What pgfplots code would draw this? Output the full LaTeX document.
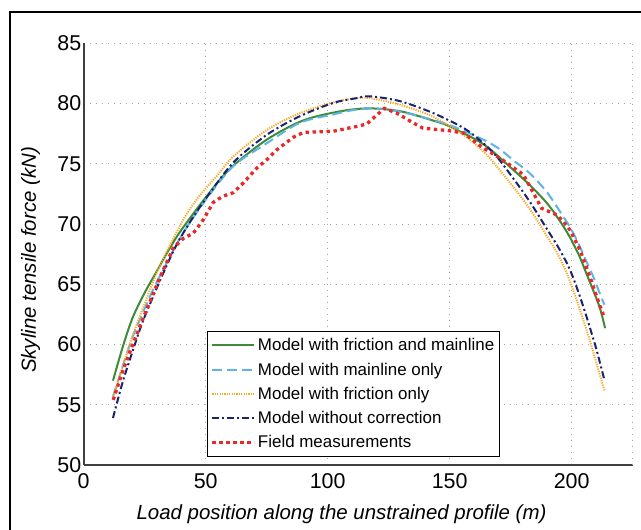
\documentclass[border=0pt]{standalone}
\usepackage{fontspec}
\setmainfont{Liberation Sans}
\usepackage{pgfplots}
\pgfplotsset{compat=1.18}

\definecolor{cgreen}{RGB}{61,139,55}
\definecolor{cblue}{RGB}{95,180,230}
\definecolor{corange}{RGB}{250,170,40}
\definecolor{cnavy}{RGB}{25,35,110}
\definecolor{cred}{RGB}{235,40,40}
\definecolor{cgrid}{RGB}{165,165,165}

\begin{document}
\begin{tikzpicture}
  \useasboundingbox (0,0) rectangle (641bp,530bp);
  \begin{axis}[
    at={(83.7bp,65bp)}, anchor=south west,
    scale only axis,
    width=549bp, height=421.7bp,
    xmin=0, xmax=225,
    ymin=50, ymax=85,
    xtick={0,50,100,150,200},
    ytick={50,55,60,65,70,75,80,85},
    extra x ticks={225},
    extra x tick labels={},
    extra x tick style={grid=major},
    grid=major,
    major grid style={cgrid, line width=1bp, dash pattern=on 1.2bp off 4.8bp},
    major tick length=0pt,
    axis x line*=bottom,
    axis y line*=left,
    axis line style={black!75, line width=1.6bp},
    tick label style={font=\fontsize{21.5}{25}\selectfont},
    /pgf/number format/assume math mode=true,
    xticklabel style={yshift=-5bp},
    yticklabel style={xshift=1bp},
    xlabel={Load position along the unstrained profile (m)},
    ylabel={Skyline tensile force (kN)},
    label style={font=\fontsize{20.5}{24}\selectfont\itshape},
    xlabel style={at={(axis description cs:0.4696,0)}, anchor=north, yshift=-36bp},
    ylabel style={at={(axis description cs:-0.073,0.486)}, anchor=south, rotate=0},
    legend style={at={(axis description cs:0.2246,0.019)}, anchor=south west,
      draw=black, line width=1.4bp, fill=white,
      font=\fontsize{17}{20}\selectfont,
      inner xsep=3bp, inner ysep=5bp,
      row sep=6.5bp},
    legend cell align={left},
    legend image code/.code={\draw[#1] (0bp,0bp) -- (42bp,0bp);},
  ]
    % model with friction and mainline
    \addplot[cgreen, line width=2bp, smooth, tension=0.5] coordinates {
      (12,57.0) (16,59.8) (20,62.2) (25,64.3) (30,66.1) (35,67.9) (40,69.5)
      (50,72.2) (60,74.6) (75,77.0) (90,78.6) (105,79.35) (117,79.6)
      (130,79.35) (143,78.6) (150,78.1) (164,76.6) (176,74.5) (183,73.2)
      (190,71.7) (195,70.3) (199,69.0) (203,67.4) (206,65.9) (209,64.4)
      (211.6,63.0) (213.7,61.35)
    };
    \addlegendentry{Model with friction and mainline}
    % model with mainline only
    \addplot[cblue, line width=2bp, dash pattern=on 10bp off 5bp, smooth, tension=0.5] coordinates {
      (12,55.7) (16,58.2) (20,60.6) (25,63.0) (30,65.2) (40,69.0) (50,72.0)
      (61.3,74.8) (75,76.7) (88.6,78.4) (102.3,79.1) (112,79.5) (122.8,79.55)
      (136.5,79.0) (150,78.2) (163.8,77.0) (170.6,76.2) (176,75.3) (182.9,74.2)
      (190,72.6) (196.6,70.6) (200,69.5) (203.4,68.1) (206,66.9) (208.9,65.6)
      (211,64.5) (213.4,63.3)
    };
    \addlegendentry{Model with mainline only}
    % model with friction only
    \addplot[corange, line width=2bp, dash pattern=on 1.2bp off 1.2bp, smooth, tension=0.5] coordinates {
      (12,55.5) (16,58.2) (20,60.7) (25,63.4) (30,66.0) (35,68.1) (41.5,70.6)
      (47.7,72.4) (55,74.1) (61.3,75.6) (75,77.8) (88.6,79.2) (102.3,80.1)
      (111.9,80.45) (117.3,80.45) (129.6,79.9) (143.3,78.9) (157,77.2)
      (165.2,75.75) (170,74.6) (176,73.1) (183,71.2) (189.8,69.0) (194,67.6)
      (198,65.9) (201.5,64.0) (204.8,62.0) (207.5,60.3) (210.2,58.4) (213.4,56.2)
    };
    \addlegendentry{Model with friction only}
    % model without correction
    \addplot[cnavy, line width=2bp, dash pattern=on 7bp off 3bp on 2bp off 3bp, smooth, tension=0.5] coordinates {
      (12,53.9) (16,56.9) (20.3,59.6) (24,61.8) (28.5,64.0) (33,66.1) (38.1,68.3)
      (44,70.3) (50.4,72.2) (61.3,75.1) (75,77.4) (88.6,78.95) (102.3,80.05)
      (111.9,80.45) (117.3,80.6) (129.6,80.2) (143.3,79.2) (157,77.8)
      (167.9,75.9) (176,73.8) (183,71.8) (189.8,69.6) (195,67.9) (199.3,66.2)
      (203,64.2) (206.1,62.3) (208.5,60.7) (210.2,59.55) (213.4,57.06)
    };
    \addlegendentry{Model without correction}
    % field measurements
    \addplot[cred, line width=3.3bp, dash pattern=on 3.4bp off 3.6bp] coordinates {
      (12.1,55.4) (16,57.8) (20.3,60.1) (25.8,62.9) (31.3,65.6) (36.7,68.0)
      (40.8,68.8) (44.9,69.24) (49,70.35) (53.1,71.8) (57,72.3) (61.3,72.6)
      (65.4,73.4) (70.9,74.64) (75,75.33) (79.1,76.16) (85.9,77.2) (90,77.6)
      (102.3,77.7) (111.9,78.1) (116,78.3) (123.2,79.6) (128.3,79.2) (135,78.4)
      (139,77.96) (150,77.74) (155.6,77.55) (163.8,76.3) (170.6,75.47)
      (180.2,74.1) (184.3,72.57) (187.7,71.3) (193.9,70.76) (196.6,70.2)
      (199.3,69.5) (203.4,67.86) (207.5,65.6) (210.2,64.0) (213.4,62.2)
    };
    \addlegendentry{Field measurements}
  \end{axis}
  \draw[black, line width=1.8bp] (10bp,0bp) -- (10bp,518.3bp) -- (645bp,518.3bp);
\end{tikzpicture}
\end{document}
